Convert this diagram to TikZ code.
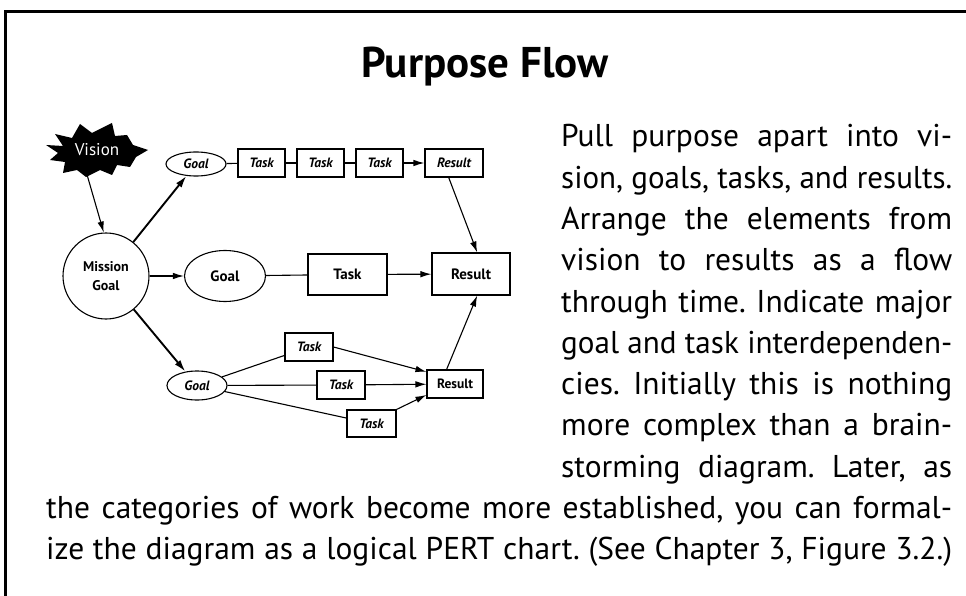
\documentclass[tikz,border=0pt]{standalone}
\usepackage{fontspec}
\setmainfont{PT Sans}
\usepackage{graphicx}
\usetikzlibrary{arrows.meta,shapes.geometric}
\frenchspacing
\newsavebox\jlbox
\newcommand\jline[2]{\sbox\jlbox{#2}\ifdim\wd\jlbox>#1\relax\resizebox{#1}{\ht\jlbox}{#2}\else\makebox[#1][s]{#2}\fi}
\newcommand\bodyfnt{\fontsize{31.5}{31.5}\selectfont}
\begin{document}
\begin{tikzpicture}[x=1pt,y=-1pt,
  ln/.style={line width=1.1pt},
  arr/.style={line width=1.1pt,-{Latex[length=11pt,width=6.5pt]}},
  tarr/.style={line width=1.9pt,-{Latex[length=12pt,width=7pt]}},
  sbox/.style={draw,line width=1.1pt,inner sep=0pt,minimum width=47pt,minimum height=28pt,font=\fontsize{13.5}{13.5}\selectfont\bfseries\itshape},
  bbox/.style={draw,line width=1.1pt,inner sep=0pt,font=\fontsize{15}{15}\selectfont\bfseries},
  goalsm/.style={draw,ellipse,line width=1.1pt,inner sep=0pt,minimum width=60pt,font=\fontsize{13.5}{13.5}\selectfont\bfseries\itshape},
  txt/.style={anchor=base west,inner sep=0pt,font=\bodyfnt}]
\useasboundingbox (0,0) rectangle (966,596);
% frame
\draw[line width=3pt] (5,596) -- (5,12) -- (966,12);
% title
\node[anchor=base,inner sep=0pt,font=\fontsize{43}{43}\selectfont\bfseries] (title) at (485,78) {Purpose Flow};
% vision star
\fill[black] (46,145) -- (63,146) -- (55,134) -- (72,138) -- (80,124) -- (92,133) -- (112,123) -- (115,136) -- (127,135) -- (133,145) -- (148,150) -- (136,157) -- (130,167) -- (117,165) -- (112,175) -- (100,170) -- (86,177) -- (77,170) -- (63,173) -- (65,162) -- (50,160) -- (58,153) -- cycle;
\node[ellipse,minimum width=100pt,minimum height=50pt,inner sep=0pt,text=white,font=\fontsize{17}{17}\selectfont] (vision) at (97,150) {Vision};
% mission
\node[draw,circle,line width=1.1pt,minimum size=86pt,inner sep=0pt,align=center,font=\fontsize{14}{19}\selectfont\bfseries] (mission) at (106,276) {Mission\\Goal};
% top row
\node[goalsm,minimum height=24pt] (g1) at (196,164) {Goal};
\node[sbox] (t1) at (261.5,163) {Task};
\node[sbox] (t2) at (320.5,163) {Task};
\node[sbox] (t3) at (379.5,163) {Task};
\node[sbox,minimum width=58pt] (r1) at (454,163) {Result};
% middle row
\node[draw,ellipse,line width=1.1pt,inner sep=0pt,minimum width=81pt,minimum height=51pt,font=\fontsize{15}{15}\selectfont\bfseries] (g2) at (225,276) {Goal};
\node[bbox,minimum width=79pt,minimum height=41pt] (t4) at (347.5,274.5) {Task};
\node[bbox,minimum width=78pt,minimum height=42pt] (r2) at (471,274) {Result};
% bottom row
\node[goalsm,minimum height=29pt] (g3) at (197,385.5) {Goal};
\node[sbox,minimum width=48pt] (ta) at (309,347) {Task};
\node[sbox,minimum width=48pt] (tb) at (341,385) {Task};
\node[sbox,minimum width=49pt,minimum height=27pt] (tc) at (371.5,423.5) {Task};
\node[sbox,minimum width=56pt,font=\fontsize{13.5}{13.5}\selectfont\bfseries] (r3) at (455,384) {Result};
% connectors
\draw[arr] (vision.248) -- (mission.93);
\draw[tarr] (mission) -- (g1);
\draw[arr] (mission) -- (g2);
\draw[tarr] (mission) -- (g3);
\draw[ln] (g1) -- (t1);
\draw[ln] (t1) -- (t2);
\draw[ln] (t2) -- (t3);
\draw[arr] (t3) -- (r1);
\draw[arr] (r1.250) -- (r2.74);
\draw[ln] (g2) -- (t4);
\draw[arr] (t4) -- (r2);
\draw[ln] (g3) -- (ta);
\draw[ln] (g3) -- (tb);
\draw[ln] (g3) -- (tc);
\draw[arr] (ta.east) -- (r3.157);
\draw[arr] (tb) -- (r3);
\draw[arr] (tc.north east) -- (r3.201);
\draw[arr] (r3.120) -- (r2.286);
% text
\node[txt] (l1) at (561,147) {\jline{391pt}{Pull purpose apart into vi-}};
\node[txt] (l2) at (561,188.25) {\jline{391pt}{sion, goals, tasks, and results.}};
\node[txt] (l3) at (561,229.5) {\jline{391pt}{Arrange the elements from}};
\node[txt] (l4) at (561,270.75) {\jline{391pt}{vision to results as a flow}};
\node[txt] (l5) at (561,312) {\jline{391pt}{through time. Indicate major}};
\node[txt] (l6) at (561,353.25) {\jline{391pt}{goal and task interdependen-}};
\node[txt] (l7) at (561,394.5) {\jline{391pt}{cies. Initially this is nothing}};
\node[txt] (l8) at (561,435.75) {\jline{391pt}{more complex than a brain-}};
\node[txt] (l9) at (561,477) {\jline{391pt}{storming diagram. Later, as}};
\node[txt] (l10) at (46,518.25) {\jline{906pt}{the categories of work become more established, you can formal-}};
\node[txt] (l11) at (46,559.5) {\jline{906pt}{ize the diagram as a logical PERT chart. (See Chapter 3, Figure 3.2.)}};
\end{tikzpicture}
\end{document}
